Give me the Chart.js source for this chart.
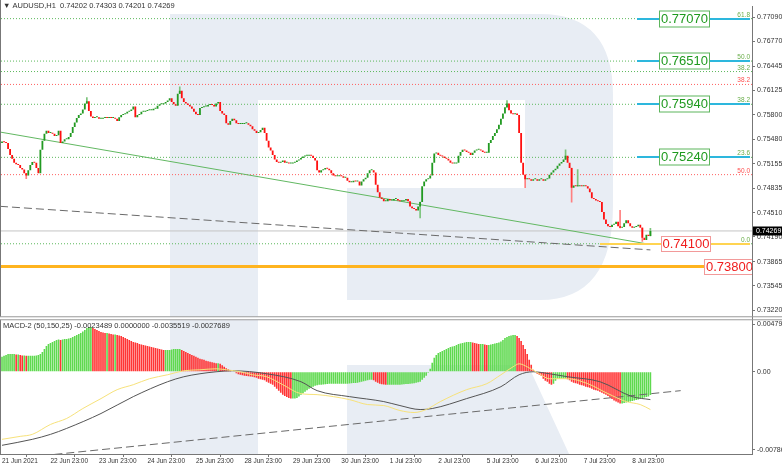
<!DOCTYPE html>
<html><head><meta charset="utf-8">
<script src="https://cdn.jsdelivr.net/npm/chart.js@4.4.1/dist/chart.umd.min.js"></script>
<style>html,body{margin:0;padding:0;background:#fff;overflow:hidden}</style>
</head><body>
<canvas id="c" width="782" height="466"></canvas>
<script>
// ---------- DATA ----------
const symbolHeader = "\u25BC AUDUSD,H1  0.74202 0.74303 0.74201 0.74269";
const macdHeader = "MACD-2 (50,150,25) -0.0023489 0.0000000 -0.0035519 -0.0027689";
const xTickIndex = [0,24,48,72,96,120,144,168,192,216,240,264,288,312];
const xTickLabels = ["21 Jun 2021","22 Jun 23:00","23 Jun 23:00","24 Jun 23:00","25 Jun 23:00","28 Jun 23:00","29 Jun 23:00","30 Jun 23:00","1 Jul 23:00","2 Jul 23:00","5 Jul 23:00","6 Jul 23:00","7 Jul 23:00","8 Jul 23:00"];
const priceTicks = [0.77090,0.76770,0.76445,0.76125,0.75800,0.75480,0.75155,0.74835,0.74510,0.74190,0.73865,0.73545,0.73220];
const macdTicks = [0.0047963, 0, -0.007866];
const macdTickLabels = ["0.0047963","0.00","-0.007866"];

const firstOpen = 0.7543;
const closes = [
0.7545,0.7544,0.7543,0.7535,0.7527,0.7522,0.7517,0.7515,0.7514,0.7510,
0.7508,0.7503,0.7500,0.7507,0.7514,0.7518,0.7517,0.7510,0.7503,0.7534,
0.7546,0.7555,0.7559,0.7556,0.7556,0.7555,0.7552,0.7553,0.7559,0.7543,
0.7545,0.7548,0.7548,0.7551,0.7556,0.7564,0.7570,0.7576,0.7580,0.7582,
0.7587,0.7595,0.7598,0.7585,0.7578,0.7576,0.7577,0.7577,0.7575,0.7575,
0.7576,0.7577,0.7576,0.7577,0.7576,0.7576,0.7575,0.7572,0.7577,0.7580,
0.7581,0.7582,0.7584,0.7585,0.7587,0.7591,0.7577,0.7580,0.7581,0.7584,
0.7584,0.7585,0.7586,0.7586,0.7586,0.7588,0.7588,0.7592,0.7594,0.7594,
0.7595,0.7597,0.7599,0.7602,0.7597,0.7594,0.7592,0.7608,0.7612,0.7602,
0.7597,0.7595,0.7593,0.7591,0.7588,0.7584,0.7581,0.7580,0.7589,0.7590,
0.7591,0.7591,0.7593,0.7594,0.7593,0.7591,0.7595,0.7597,0.7585,0.7582,
0.7580,0.7569,0.7567,0.7572,0.7575,0.7573,0.7569,0.7568,0.7568,0.7568,
0.7569,0.7569,0.7567,0.7565,0.7561,0.7559,0.7556,0.7557,0.7560,0.7563,
0.7556,0.7546,0.7537,0.7533,0.7527,0.7521,0.7518,0.7517,0.7518,0.7520,
0.7517,0.7517,0.7516,0.7516,0.7517,0.7518,0.7520,0.7521,0.7523,0.7525,
0.7526,0.7526,0.7527,0.7526,0.7523,0.7520,0.7507,0.7504,0.7507,0.7508,
0.7510,0.7509,0.7507,0.7503,0.7500,0.7499,0.7499,0.7500,0.7499,0.7497,
0.7497,0.7493,0.7491,0.7491,0.7493,0.7492,0.7492,0.7487,0.7492,0.7495,
0.7497,0.7503,0.7507,0.7507,0.7504,0.7488,0.7478,0.7471,0.7469,0.7466,
0.7466,0.7469,0.7467,0.7467,0.7469,0.7469,0.7467,0.7466,0.7466,0.7467,
0.7469,0.7466,0.7459,0.7457,0.7456,0.7454,0.7459,0.7465,0.7486,0.7492,
0.7495,0.7496,0.7500,0.7517,0.7529,0.7530,0.7527,0.7526,0.7525,0.7523,
0.7522,0.7520,0.7517,0.7516,0.7516,0.7517,0.7526,0.7531,0.7534,0.7533,
0.7531,0.7530,0.7527,0.7530,0.7533,0.7534,0.7534,0.7533,0.7531,0.7530,
0.7530,0.7543,0.7547,0.7552,0.7556,0.7561,0.7567,0.7575,0.7582,0.7590,
0.7595,0.7586,0.7582,0.7581,0.7582,0.7580,0.7556,0.7517,0.7501,0.7495,
0.7496,0.7495,0.7493,0.7495,0.7495,0.7493,0.7495,0.7495,0.7493,0.7495,
0.7496,0.7501,0.7504,0.7507,0.7509,0.7513,0.7516,0.7518,0.7521,0.7526,
0.7517,0.7510,0.7484,0.7487,0.7486,0.7486,0.7487,0.7486,0.7487,0.7486,
0.7483,0.7478,0.7470,0.7469,0.7467,0.7466,0.7465,0.7452,0.7442,0.7436,
0.7433,0.7432,0.7435,0.7436,0.7439,0.7433,0.7431,0.7432,0.7437,0.7441,
0.7437,0.7433,0.7431,0.7432,0.7433,0.7435,0.7431,0.7418,0.7415,0.7422,
0.74202,0.74269];
// notable wick extremes: bar index -> price
const wickHigh = {42:0.7603, 88:0.7617, 250:0.7599, 279:0.7534, 285:0.7508, 306:0.7454, 321:0.74303};
const wickLow = {12:0.7496, 207:0.7444, 259:0.7484, 282:0.7465, 317:0.7413};

// MACD histogram, in units of 0.0001
const macdHist = [
15,16,17,18,18,18,18,17.5,17.5,17,
16.5,16.5,16,16,16,16,16.2,16.5,17,18,
20,23,26,28,29,30,31,32,32.5,32,
32.5,33,33,33.5,34,35,36,37,38,39,
40.5,42,44,45,45,44,43,42,41,40,
39.5,39,39,38.5,38,37.5,37.5,37,36.5,36,
35,34,33,32,31,30,29.5,29,28,27.5,
27,26.5,26,25.5,25,24.5,24,23.5,23,22.5,
22,22,22,22,22.5,22.8,23,23,23,22,
21,20,19,18,17,16,15,14,13,12.5,
12,11,10.5,10,9.5,9,8.5,8.5,8,6.5,
5,3.5,2.5,1.5,0.5,-0.5,-1.5,-2.5,-3,-3.5,
-4,-4.2,-4.5,-4.8,-5,-5.5,-6,-7,-7.5,-8,
-8.5,-10,-11,-12,-13,-15,-17,-19,-21,-23,
-24.5,-25.5,-26.5,-27,-27,-27,-26.5,-25,-23,-21.5,
-20,-18.5,-17,-16,-15,-14,-13.5,-13,-13,-12.8,
-12.5,-12.3,-12,-12,-12,-12,-12,-12,-12,-12,
-12,-12,-11.8,-11.6,-11.4,-11.2,-11,-10.5,-10,-9.5,
-9,-8.5,-8,-8,-8.5,-10,-11,-12,-12.5,-12.8,
-13,-13,-13,-13,-13,-13,-13,-13,-12.8,-12.6,
-12.4,-12.2,-12,-11.8,-11.5,-11,-10.5,-10,-8,-6,
-4,-1,3,9,14,17,19,20,21,22,
23,24,25,25.5,26,27,28,28.5,29,29.5,
30,30,30,29.5,29,28.5,28,28,28,27.5,
27,27,27.5,28,28.5,29,29.5,30.5,32,34,
35,36,36.5,37,37,36,34,31,27,23,
18,12,7,2,-0.5,-2,-3,-4,-7,-9,
-10,-12,-13,-12,-9,-7,-7,-7,-7,-7,
-7.5,-8.5,-10,-11,-11.5,-12,-13,-13.5,-14,-15,
-15.5,-16,-17,-18,-18.5,-19,-20,-21,-22,-23,
-24.5,-26,-27.5,-29,-30,-31,-32,-32,-31.5,-31,
-30.5,-30,-29.5,-29,-28.5,-28,-27,-26.5,-26,-25.5,
-25,-23.5];
// MACD lines [bar index, value in units of 0.0001]
const macdYellow = [[0,-68],[9,-65],[15,-63],[24,-53],[32,-47],[40,-37],[49,-27],[57,-18],[65,-13],[73,-7],[82,-3],[90,1],[98,2],[106,3],[111,2],[118,0],[124,-3],[131,-5],[139,-13],[148,-22],[156,-23],[164,-25],[172,-28],[181,-33],[189,-34],[197,-39],[204,-41],[210,-38],[217,-30],[230,-18],[240,-12],[247,-3],[253,5],[256,8],[260,5],[266,-2],[271,-7],[280,-7],[290,-12],[300,-22],[309,-30],[316,-33],[321,-38]];
const macdGrey = [[0,-74],[15,-68],[24,-63],[32,-57],[49,-42],[65,-25],[82,-10],[90,-5],[98,-2],[106,0],[114,1],[131,-2],[148,-10],[156,-19],[172,-25],[189,-30],[197,-34],[207,-38],[213,-37],[230,-27],[247,-15],[256,-3],[263,0],[271,-2],[280,-5],[296,-10],[312,-25],[321,-28]];
const macdTrend = [[20,-0.00844],[336,-0.0019]];
const priceTrendGreen = [[-1,0.75574],[320,0.74095]];
const priceTrendDashed = [[-1,0.74594],[321,0.74019]];

const fibLevels = [
  {price:0.77070, tag:"61.8", kind:"g"},
  {price:0.76510, tag:"50.0", kind:"g"},
  {price:0.76372, tag:"38.2", kind:"g"},
  {price:0.76202, tag:"38.2", kind:"r"},
  {price:0.75940, tag:"38.2", kind:"g"},
  {price:0.75240, tag:"23.6", kind:"g"},
  {price:0.75012, tag:"50.0", kind:"r"},
  {price:0.74100, tag:"0.0",  kind:"g"}
];
const targetLevels = [0.77070, 0.76510, 0.75940, 0.75240];
const supportLevel1 = 0.74100;
const supportLevel2 = 0.73800;
const lastPrice = 0.74269;

// ---------- BUILD ----------
const XMIN = -0.5, XMAX = 371.3;
const BULL = '#229a22', BEAR = '#ff1010';
const opens = closes.map((c,i)=> i===0 ? firstOpen : closes[i-1]);
const candleData = closes.map((c,i)=>({x:i, y:[opens[i], c]}));
const candleColors = closes.map((c,i)=> c>=opens[i] ? BULL : BEAR);
const wickIdx = [...new Set([...Object.keys(wickHigh), ...Object.keys(wickLow)].map(Number))];
const wickData = wickIdx.map(i=>{
  const lo = Math.min(opens[i], closes[i], wickLow[i] ?? Infinity);
  const hi = Math.max(opens[i], closes[i], wickHigh[i] ?? -Infinity);
  return {x:i, y:[lo, hi]};
});
const wickColors = wickIdx.map(i=> closes[i]>=opens[i] ? '#7cc47c' : '#ff8080');
const histData = macdHist.map((v,i)=>({x:i, y:v/10000}));
const histColors = macdHist.map((v,i)=> (i===0 || v>=macdHist[i-1]) ? '#5fd94f' : '#ff3535');
const pts = (arr, k=1)=>arr.map(p=>({x:p[0], y:p[1]*k}));
const hline = (p)=>[{x:XMIN,y:p},{x:XMAX,y:p}];

const datasets = [
  {type:'bar', label:'candles', data:candleData, backgroundColor:candleColors, yAxisID:'y', grouped:false, barPercentage:0.9, categoryPercentage:1, minBarLength:1, order:0},
  {type:'bar', label:'wicks', data:wickData, backgroundColor:wickColors, yAxisID:'y', grouped:false, barThickness:1, order:1},
  {type:'line', label:'trendG', data:pts(priceTrendGreen), borderColor:'#62b862', borderWidth:1, pointRadius:0, yAxisID:'y', order:3},
  {type:'line', label:'trendD', data:pts(priceTrendDashed), borderColor:'#6a6a6a', borderWidth:1, borderDash:[8,4], pointRadius:0, yAxisID:'y', order:3},
  {type:'line', label:'last', data:hline(lastPrice), borderColor:'#c4c4c4', borderWidth:1, pointRadius:0, yAxisID:'y', order:8},
  {type:'line', label:'sup2', data:hline(supportLevel2), borderColor:'#ffb41f', borderWidth:3, pointRadius:0, yAxisID:'y', order:7},
  ...fibLevels.map(l=>({type:'line', label:'fib'+l.tag, data:hline(l.price), borderColor: l.kind==='g' ? '#5cb85c' : '#ff6060', borderWidth:1, borderDash:[1,2], pointRadius:0, yAxisID:'y', order:9})),
  {type:'bar', label:'hist', data:histData, backgroundColor:histColors, yAxisID:'y2', grouped:false, barPercentage:0.8, categoryPercentage:1, order:4},
  {type:'line', label:'sig', data:pts(macdYellow,1e-4), borderColor:'#f7e27a', borderWidth:1, pointRadius:0, cubicInterpolationMode:'monotone', yAxisID:'y2', order:2},
  {type:'line', label:'main', data:pts(macdGrey,1e-4), borderColor:'#555', borderWidth:1, pointRadius:0, cubicInterpolationMode:'monotone', yAxisID:'y2', order:2},
  {type:'line', label:'mtrend', data:pts(macdTrend), borderColor:'#6a6a6a', borderWidth:1, borderDash:[8,4], pointRadius:0, yAxisID:'y2', order:3}
];

const FONT = '"Liberation Sans", Arial, sans-serif';
const decor = {
  id:'decor',
  beforeDraw(chart){
    const {ctx, chartArea:a} = chart;
    ctx.save();
    ctx.fillStyle='#fff'; ctx.fillRect(0,0,chart.width,chart.height);
    ctx.beginPath(); ctx.rect(a.left,a.top,a.right-a.left,a.bottom-a.top); ctx.clip();
    ctx.fillStyle='#e8edf4';
    ctx.fillRect(170,14,88,446);
    ctx.beginPath();
    ctx.moveTo(258,14); ctx.lineTo(540,14);
    ctx.quadraticCurveTo(613,14,613,95);
    ctx.lineTo(613,205);
    ctx.quadraticCurveTo(613,300,540,300);
    ctx.lineTo(347,300); ctx.lineTo(347,188); ctx.lineTo(525,188); ctx.lineTo(525,100); ctx.lineTo(258,100);
    ctx.closePath(); ctx.fill();
    ctx.beginPath(); ctx.moveTo(347,365); ctx.lineTo(528,365); ctx.lineTo(570,456); ctx.lineTo(347,456); ctx.closePath(); ctx.fill();
    ctx.restore();
  },
  afterDatasetsDraw(chart){
    const {ctx, chartArea:a, scales} = chart;
    const ys = scales.y;
    ctx.save();
    ctx.beginPath(); ctx.rect(a.left,a.top,a.right-a.left,a.bottom-a.top); ctx.clip();
    // fib tags
    ctx.font = '6.5px '+FONT; ctx.textAlign='right'; ctx.textBaseline='bottom';
    fibLevels.forEach(l=>{
      ctx.fillStyle = l.kind==='g' ? '#6aae4a' : '#ff5050';
      ctx.fillText(l.tag, a.right-2, ys.getPixelForValue(l.price)-0.5);
    });
    // target boxes
    targetLevels.forEach(p=>{
      const y = Math.round(ys.getPixelForValue(p));
      ctx.strokeStyle='#2db7dd'; ctx.lineWidth=2;
      ctx.beginPath(); ctx.moveTo(a.right-115,y); ctx.lineTo(a.right-93,y); ctx.moveTo(a.right-42,y); ctx.lineTo(a.right-2,y); ctx.stroke();
      ctx.fillStyle='#fff'; ctx.fillRect(a.right-93,y-8.5,51,17);
      ctx.strokeStyle='#5db55d'; ctx.lineWidth=1; ctx.strokeRect(a.right-92.5,y-8,50,16);
      ctx.fillStyle='#1f9a1f'; ctx.font='13px '+FONT; ctx.textAlign='center'; ctx.textBaseline='middle';
      ctx.fillText(p.toFixed(5), a.right-67.5, y+0.5);
    });
    // support 1
    let y = Math.round(ys.getPixelForValue(supportLevel1));
    ctx.strokeStyle='#ffd451'; ctx.lineWidth=2;
    ctx.beginPath(); ctx.moveTo(a.right-152,y); ctx.lineTo(a.right-91,y); ctx.moveTo(a.right-41,y); ctx.lineTo(a.right-2,y); ctx.stroke();
    ctx.fillStyle='#fff'; ctx.fillRect(a.right-91,y-8,50,16);
    ctx.strokeStyle='#f29a9a'; ctx.lineWidth=1; ctx.strokeRect(a.right-90.5,y-7.5,49,15);
    ctx.fillStyle='#f01d1d'; ctx.font='13px '+FONT; ctx.textAlign='center'; ctx.textBaseline='middle';
    ctx.fillText(supportLevel1.toFixed(5), a.right-66, y+0.5);
    // support 2
    y = Math.round(ys.getPixelForValue(supportLevel2));
    ctx.fillStyle='#fff'; ctx.fillRect(a.right-48,y-8,52,16);
    ctx.strokeStyle='#f29a9a'; ctx.strokeRect(a.right-47.5,y-7.5,52,15);
    ctx.fillStyle='#f01d1d'; ctx.textAlign='left';
    ctx.fillText(supportLevel2.toFixed(5), a.right-46, y+0.5);
    ctx.restore();
  },
  afterDraw(chart){
    const {ctx, chartArea:a, scales} = chart;
    ctx.save();
    // borders and separator
    ctx.strokeStyle='#777'; ctx.lineWidth=1;
    ctx.beginPath(); ctx.moveTo(0.5,0); ctx.lineTo(0.5,a.bottom); ctx.stroke();
    ctx.beginPath(); ctx.moveTo(0,a.bottom+0.5); ctx.lineTo(a.right,a.bottom+0.5); ctx.stroke();
    const sep = scales.y.bottom;
    ctx.fillStyle='#fff'; ctx.fillRect(0,sep-1.5,a.right,3);
    ctx.strokeStyle='#9a9a9a';
    ctx.beginPath(); ctx.moveTo(0,sep-1.5); ctx.lineTo(782,sep-1.5); ctx.moveTo(0,sep+1.5); ctx.lineTo(782,sep+1.5); ctx.stroke();
    // headers
    ctx.fillStyle='#333'; ctx.font='7.5px '+FONT; ctx.textAlign='left'; ctx.textBaseline='middle';
    ctx.fillText(symbolHeader, 3, 6);
    ctx.fillText(macdHeader, 3, sep+7.5);
    // last price marker
    const yp = Math.round(scales.y.getPixelForValue(lastPrice));
    ctx.fillStyle='#000'; ctx.fillRect(a.right+1, yp-4.5, 30, 9);
    ctx.fillStyle='#fff'; ctx.font='7px '+FONT;
    ctx.fillText(lastPrice.toFixed(5), a.right+4, yp);
    ctx.restore();
  }
};

new Chart(document.getElementById('c'), {
  type:'bar',
  data:{datasets},
  options:{
    responsive:false, animation:false, devicePixelRatio:1,
    layout:{padding:{left:1, top:2, right:0, bottom:0}},
    plugins:{legend:{display:false}, tooltip:{enabled:false}},
    scales:{
      x:{type:'linear', min:XMIN, max:XMAX, offset:false,
        afterBuildTicks:s=>{s.ticks = xTickIndex.map(v=>({value:v}));},
        afterFit:s=>{s.height=12;},
        ticks:{align:'start', autoSkip:false, maxRotation:0, padding:0, color:'#333',
          font:{size:6.5, family:FONT},
          callback:v=>xTickLabels[xTickIndex.indexOf(v)]},
        grid:{drawOnChartArea:false, tickLength:3, color:'#777'},
        border:{display:false}},
      y:{type:'linear', position:'right', stack:'p', stackWeight:315, min:0.73117, max:0.77234,
        afterBuildTicks:s=>{s.ticks = priceTicks.map(v=>({value:v}));},
        afterFit:s=>{s.width=30;},
        ticks:{autoSkip:false, padding:2, color:'#333', font:{size:7, family:FONT}, callback:v=>v.toFixed(5)},
        grid:{drawOnChartArea:false, tickLength:3, color:'#777'},
        border:{color:'#777'}},
      y2:{type:'linear', position:'right', stack:'p', stackWeight:137, min:-0.008275, max:0.005384,
        afterBuildTicks:s=>{s.ticks = macdTicks.map(v=>({value:v}));},
        afterFit:s=>{s.width=30;},
        ticks:{autoSkip:false, padding:2, color:'#333', font:{size:7, family:FONT},
          callback:v=>macdTickLabels[macdTicks.indexOf(v)]},
        grid:{drawOnChartArea:false, tickLength:3, color:'#777'},
        border:{color:'#777'}}
    }
  },
  plugins:[decor]
});
</script>
</body></html>
